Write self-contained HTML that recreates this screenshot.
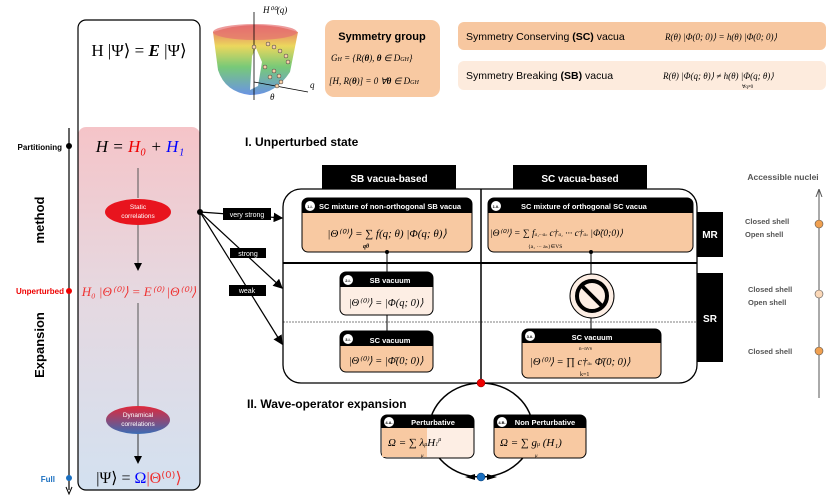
<!DOCTYPE html>
<html><head><meta charset="utf-8"><style>
body{margin:0;background:#fff}
svg{display:block}
text{font-family:"Liberation Sans",sans-serif}
.m{font-family:"Liberation Serif",serif}
.b{font-weight:bold}
</style></head><body>
<svg width="831" height="498" viewBox="0 0 831 498" xmlns="http://www.w3.org/2000/svg">
<defs>
<linearGradient id="lg" x1="0" y1="0" x2="0" y2="1">
<stop offset="0" stop-color="#f5c4c8"/><stop offset="0.45" stop-color="#e6d8e0"/><stop offset="1" stop-color="#d3e1f0"/></linearGradient>
<linearGradient id="dg" x1="0" y1="0" x2="0" y2="1"><stop offset="0" stop-color="#e0283a"/><stop offset="1" stop-color="#3a6cb5"/></linearGradient>
<linearGradient id="sg" x1="0" y1="0" x2="0" y2="1"><stop offset="0" stop-color="#e05050"/><stop offset="0.3" stop-color="#e8d040"/><stop offset="0.6" stop-color="#60c060"/><stop offset="1" stop-color="#5080e0"/></linearGradient>
<marker id="ar" markerWidth="8" markerHeight="8" refX="7" refY="4" orient="auto"><path d="M0,0L8,4L0,8z" fill="#000"/></marker>
<marker id="arg" markerWidth="8" markerHeight="8" refX="7" refY="4" orient="auto"><path d="M0,1L8,4L0,7" fill="none" stroke="#555"/></marker>
</defs>

<rect x="78" y="127" width="122" height="363" rx="8" fill="url(#lg)"/>
<rect x="78" y="20" width="122" height="470" rx="8" fill="none" stroke="#000" stroke-width="1.2"/>
<text x="139" y="56" class="m" font-size="17" text-anchor="middle">H |Ψ⟩ = <tspan font-weight="bold" font-style="italic">E</tspan> |Ψ⟩</text>
<text x="140" y="152" class="m" font-size="17" text-anchor="middle" font-style="italic">H = <tspan fill="#e00">H₀</tspan> + <tspan fill="#00f">H₁</tspan></text>
<line x1="138" y1="168" x2="138" y2="198" stroke="#555"/>
<ellipse cx="138" cy="212" rx="33" ry="13" fill="#e8141e"/>
<text x="138" y="209" font-size="6.5" fill="#fff" text-anchor="middle">Static</text>
<text x="138" y="218" font-size="6.5" fill="#fff" text-anchor="middle">correlations</text>
<line x1="138" y1="225" x2="138" y2="270" stroke="#555" marker-end="url(#ar)"/>
<text x="139" y="296" class="m" font-size="13" fill="#e33" text-anchor="middle" font-style="italic">H₀ |Θ⁽⁰⁾⟩ = E⁽⁰⁾ |Θ⁽⁰⁾⟩</text>
<line x1="138" y1="303" x2="138" y2="407" stroke="#555"/>
<ellipse cx="138" cy="420" rx="32" ry="14" fill="url(#dg)"/>
<text x="138" y="417" font-size="6.5" fill="#fff" text-anchor="middle">Dynamical</text>
<text x="138" y="426" font-size="6.5" fill="#fff" text-anchor="middle">correlations</text>
<line x1="138" y1="434" x2="138" y2="463" stroke="#333" marker-end="url(#ar)"/>
<text x="139" y="483" class="m" font-size="16" text-anchor="middle">|Ψ⟩ = <tspan fill="#00f">Ω</tspan><tspan fill="#e33">|Θ⁽⁰⁾⟩</tspan></text>

<line x1="69" y1="128" x2="69" y2="490" stroke="#000" stroke-width="1.2"/>
<path d="M66,487L69,494L72,487" fill="none" stroke="#000"/>
<circle cx="69" cy="146" r="3" fill="#000"/>
<circle cx="69" cy="291" r="3" fill="#e00"/>
<circle cx="69" cy="478" r="3" fill="#1a6fc0"/>
<text x="62" y="150" font-size="8" class="b" text-anchor="end">Partitioning</text>
<text x="64" y="294" font-size="8" class="b" fill="#e00" text-anchor="end">Unperturbed</text>
<text x="55" y="482" font-size="8" class="b" fill="#1a6fc0" text-anchor="end">Full</text>
<text transform="translate(44,220) rotate(-90)" font-size="13" class="b" text-anchor="middle">method</text>
<text transform="translate(44,345) rotate(-90)" font-size="13" class="b" text-anchor="middle">Expansion</text>

<path d="M213,32 Q255,18 298,32 L290,72 Q275,95 250,95 Q225,92 218,70 Z" fill="url(#sg)" opacity="0.85"/>
<ellipse cx="255" cy="32" rx="42" ry="8" fill="#e57070" opacity="0.7"/>
<path d="M252,56 L256,48 L262,62 L258,86 L250,90Z" fill="#fff"/>
<line x1="254" y1="100" x2="254" y2="12" stroke="#000" stroke-width="0.8"/>
<line x1="254" y1="82" x2="308" y2="92" stroke="#000" stroke-width="0.8"/>
<text x="263" y="13" class="m" font-size="9" font-style="italic">H⁰⁰(q)</text>
<text x="310" y="88" class="m" font-size="9" font-style="italic">q</text>
<text x="270" y="100" class="m" font-size="9" font-style="italic">θ</text>
<g fill="#f8d0a8" stroke="#333" stroke-width="0.5">
<circle cx="254" cy="47" r="2"/><circle cx="268" cy="44" r="2"/><circle cx="274" cy="47" r="2"/><circle cx="280" cy="51" r="2"/><circle cx="286" cy="56" r="2"/><circle cx="288" cy="62" r="2"/><circle cx="265" cy="67" r="2"/><circle cx="274" cy="71" r="2"/><circle cx="279" cy="76" r="2"/><circle cx="281" cy="82" r="2"/><circle cx="277" cy="86" r="2"/><circle cx="270" cy="77" r="2"/></g>

<rect x="325" y="20" width="115" height="77" rx="9" fill="#f8c9a2"/>
<text x="382" y="40" font-size="11" class="b" text-anchor="middle">Symmetry group</text>
<text x="331" y="61" class="m" font-size="9" font-style="italic">G<tspan font-size="6">H</tspan> = {R(<tspan font-weight="bold">θ</tspan>), <tspan font-weight="bold">θ</tspan> ∈ D<tspan font-size="6">GH</tspan>}</text>
<text x="329" y="84" class="m" font-size="9" font-style="italic">[H, R(<tspan font-weight="bold">θ</tspan>)] = 0 ∀<tspan font-weight="bold">θ</tspan> ∈ D<tspan font-size="6">GH</tspan></text>

<rect x="458" y="22" width="368" height="28" rx="6" fill="#f7c7a0"/>
<text x="466" y="40" font-size="10.5">Symmetry Conserving  <tspan class="b">(SC)</tspan> vacua</text>
<text x="665" y="40" class="m" font-size="9" font-style="italic">R(θ) |Φ(0; 0)⟩ = h(θ) |Φ(0; 0)⟩</text>
<rect x="458" y="61" width="368" height="29" rx="6" fill="#fdebdd"/>
<text x="466" y="79" font-size="10.5">Symmetry Breaking <tspan class="b">(SB)</tspan> vacua</text>
<text x="663" y="79" class="m" font-size="9" font-style="italic">R(θ) |Φ(q; θ)⟩  ≠  h(θ) |Φ(q; θ)⟩</text>
<text x="742" y="88" class="m" font-size="5">∀q≠0</text>

<text x="245" y="146" font-size="12" class="b">I. Unperturbed state</text>

<rect x="322" y="165" width="134" height="25" fill="#000"/>
<rect x="513" y="165" width="134" height="25" fill="#000"/>
<text x="389" y="182" font-size="10" class="b" fill="#fff" text-anchor="middle">SB vacua-based</text>
<text x="580" y="182" font-size="10" class="b" fill="#fff" text-anchor="middle">SC vacua-based</text>
<rect x="697" y="212" width="26" height="45" fill="#000"/>
<rect x="697" y="273" width="26" height="89" fill="#000"/>
<text x="710" y="238" font-size="10" class="b" fill="#fff" text-anchor="middle">MR</text>
<text x="710" y="322" font-size="10" class="b" fill="#fff" text-anchor="middle">SR</text>
<rect x="283" y="189" width="414" height="194" rx="18" fill="#fff" stroke="#000" stroke-width="1.3"/>
<line x1="481" y1="189" x2="481" y2="383" stroke="#000" stroke-width="1.5"/>
<line x1="283" y1="263" x2="697" y2="263" stroke="#000" stroke-width="2"/>
<line x1="283" y1="322" x2="697" y2="322" stroke="#000" stroke-width="0.6" stroke-dasharray="2,1"/>

<rect x="302" y="198" width="170" height="54" rx="6" fill="#f8c9a2" stroke="#000"/>
<path d="M302,213V204a6,6 0 0 1 6,-6H466a6,6 0 0 1 6,6V213Z" fill="#000"/>
<circle cx="310" cy="206" r="5" fill="#fff"/><text x="310" y="208" font-size="4" class="b" text-anchor="middle">1.i.</text>
<text x="319" y="209" font-size="7.5" class="b" fill="#fff">SC mixture of non-orthogonal SB vacua</text>
<text x="387" y="237" class="m" font-size="11" text-anchor="middle" font-style="italic">|Θ⁽⁰⁾⟩ = ∑ f(q; θ) |Φ(q; θ)⟩</text>
<text x="363" y="248" class="m" font-size="6" font-weight="bold" font-style="italic">qθ</text>
<rect x="488" y="198" width="205" height="54" rx="6" fill="#f8c9a2" stroke="#000"/>
<path d="M488,213V204a6,6 0 0 1 6,-6H687a6,6 0 0 1 6,6V213Z" fill="#000"/>
<circle cx="496" cy="206" r="5" fill="#fff"/><text x="496" y="208" font-size="4" class="b" text-anchor="middle">1.ii.</text>
<text x="521" y="209" font-size="7.5" class="b" fill="#fff">SC mixture of orthogonal SC vacua</text>
<text x="490" y="236" class="m" font-size="9.5" font-style="italic">|Θ⁽⁰⁾⟩ =        ∑       f<tspan font-size="5">a₁···aₙ</tspan> c†<tspan font-size="5">a₁</tspan> ··· c†<tspan font-size="5">aₙ</tspan> |Φ̃(0;0)⟩</text>
<text x="528" y="248" class="m" font-size="5.5">{a₁ ··· aₙ}∈VS</text>

<line x1="387" y1="252" x2="387" y2="272" stroke="#000"/><circle cx="387" cy="252" r="2" fill="#000"/>
<line x1="591" y1="252" x2="591" y2="274" stroke="#000"/><circle cx="591" cy="252" r="2" fill="#000"/>
<rect x="340" y="272" width="93" height="43" rx="6" fill="#fdeee4" stroke="#000"/>
<path d="M340,287V278a6,6 0 0 1 6,-6H427a6,6 0 0 1 6,6V287Z" fill="#000"/>
<circle cx="348" cy="280" r="5" fill="#fff"/><text x="348" y="282" font-size="4" class="b" text-anchor="middle">2.i.</text>
<text x="390" y="283" font-size="7.5" class="b" fill="#fff" text-anchor="middle">SB vacuum</text>
<text x="386" y="306" class="m" font-size="10.5" text-anchor="middle" font-style="italic">|Θ⁽⁰⁾⟩ = |Φ(q; 0)⟩</text>
<line x1="387" y1="315" x2="387" y2="331" stroke="#000"/>
<rect x="340" y="331" width="93" height="41" rx="6" fill="#f8c9a2" stroke="#000"/>
<path d="M340,346V337a6,6 0 0 1 6,-6H427a6,6 0 0 1 6,6V346Z" fill="#000"/>
<circle cx="348" cy="339" r="5" fill="#fff"/><text x="348" y="341" font-size="4" class="b" text-anchor="middle">3.i.</text>
<text x="390" y="343" font-size="7.5" class="b" fill="#fff" text-anchor="middle">SC vacuum</text>
<text x="386" y="364" class="m" font-size="10.5" text-anchor="middle" font-style="italic">|Θ⁽⁰⁾⟩ = |Φ̄(0; 0)⟩</text>
<circle cx="592" cy="296" r="22" fill="#fdeee4" stroke="#000" stroke-width="1"/>
<circle cx="592" cy="296" r="15" fill="none" stroke="#000" stroke-width="4"/>
<line x1="581" y1="285" x2="603" y2="307" stroke="#000" stroke-width="4"/>
<line x1="591" y1="318" x2="591" y2="329" stroke="#000"/>
<rect x="522" y="329" width="139" height="49" rx="6" fill="#f8c9a2" stroke="#000"/>
<path d="M522,343V335a6,6 0 0 1 6,-6H655a6,6 0 0 1 6,6V343Z" fill="#000"/>
<circle cx="530" cy="336" r="5" fill="#fff"/><text x="530" y="338" font-size="4" class="b" text-anchor="middle">3.ii.</text>
<text x="592" y="340" font-size="7.5" class="b" fill="#fff" text-anchor="middle">SC vacuum</text>
<text x="530" y="365" class="m" font-size="10.5" font-style="italic">|Θ⁽⁰⁾⟩ =  ∏  c†<tspan font-size="5">aₖ</tspan> Φ̄(0; 0)⟩</text>
<text x="579" y="350" class="m" font-size="5">n−n<tspan font-size="4">VS</tspan></text>
<text x="580" y="376" class="m" font-size="6">k=1</text>

<circle cx="200" cy="212" r="3" fill="#000"/>
<line x1="200" y1="212" x2="282" y2="218" stroke="#000" stroke-width="1.2" marker-end="url(#ar)"/>
<line x1="200" y1="212" x2="282" y2="288" stroke="#000" stroke-width="1.2" marker-end="url(#ar)"/>
<line x1="200" y1="212" x2="282" y2="344" stroke="#000" stroke-width="1.2" marker-end="url(#ar)"/>
<rect x="223" y="208" width="48" height="12" fill="#000"/><text x="247" y="217" font-size="7" fill="#fff" text-anchor="middle">very strong</text>
<rect x="230" y="248" width="36" height="10" fill="#000"/><text x="248" y="256" font-size="7" fill="#fff" text-anchor="middle">strong</text>
<rect x="229" y="285" width="37" height="11" fill="#000"/><text x="247" y="293" font-size="7" fill="#fff" text-anchor="middle">weak</text>

<text x="247" y="408" font-size="12" class="b">II. Wave-operator expansion</text>
<ellipse cx="481" cy="430" rx="52" ry="47" fill="none" stroke="#000" stroke-width="1.5"/>
<path d="M465,477l10,-3l0,6z M497,477l-10,-3l0,6z" fill="#000"/>
<circle cx="481" cy="383" r="4" fill="#e00" stroke="#800" stroke-width="0.5"/>
<circle cx="481" cy="477" r="4" fill="#1a6fc0" stroke="#036" stroke-width="0.5"/>
<rect x="381" y="415" width="93" height="43" rx="6" fill="#fdeee4" stroke="#000"/>
<rect x="382" y="428" width="45" height="29" fill="#f8c9a2"/>
<path d="M381,428V421a6,6 0 0 1 6,-6H468a6,6 0 0 1 6,6V428Z" fill="#000"/>
<circle cx="389" cy="422" r="5" fill="#fff"/><text x="389" y="424" font-size="4" class="b" text-anchor="middle">4.A.</text>
<text x="433" y="425" font-size="7.5" class="b" fill="#fff" text-anchor="middle">Perturbative</text>
<text x="388" y="446" class="m" font-size="11" font-style="italic">Ω = ∑ λ<tspan font-size="6">μ</tspan>H<tspan font-size="6">1</tspan><tspan font-size="6" dy="-5">μ</tspan></text>
<text x="421" y="457" class="m" font-size="5" font-style="italic">μ</text>
<rect x="494" y="415" width="92" height="43" rx="6" fill="#f8c9a2" stroke="#000"/>
<path d="M494,428V421a6,6 0 0 1 6,-6H580a6,6 0 0 1 6,6V428Z" fill="#000"/>
<circle cx="502" cy="422" r="5" fill="#fff"/><text x="502" y="424" font-size="4" class="b" text-anchor="middle">4.B.</text>
<text x="545" y="425" font-size="7.5" class="b" fill="#fff" text-anchor="middle">Non Perturbative</text>
<text x="500" y="446" class="m" font-size="11" font-style="italic">Ω = ∑ g<tspan font-size="6">μ</tspan> (H₁)</text>
<text x="535" y="457" class="m" font-size="5" font-style="italic">μ</text>

<text x="783" y="180" font-size="8.5" class="b" fill="#555" text-anchor="middle">Accessible nuclei</text>
<line x1="819" y1="398" x2="819" y2="190" stroke="#555" marker-end="url(#arg)"/>
<circle cx="819" cy="224" r="4" fill="#f0a050" stroke="#555" stroke-width="0.6"/>
<circle cx="819" cy="294" r="4" fill="#fbd8b8" stroke="#555" stroke-width="0.6"/>
<circle cx="819" cy="351" r="4" fill="#f0a050" stroke="#555" stroke-width="0.6"/>
<g font-size="7.5" class="b" fill="#555">
<text x="745" y="224">Closed shell</text><text x="745" y="237">Open shell</text>
<text x="748" y="292">Closed shell</text><text x="748" y="305">Open shell</text>
<text x="748" y="354">Closed shell</text></g>
</svg>
</body></html>
